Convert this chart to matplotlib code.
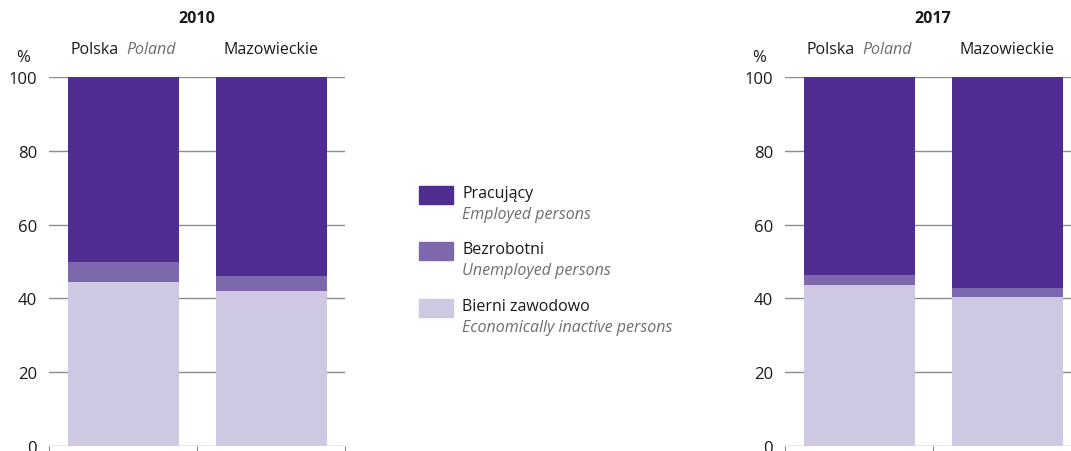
import matplotlib.pyplot as plt
from matplotlib.patches import Rectangle

plt.rcParams['font.family'] = ['Open Sans', 'DejaVu Sans']

years = ['2010', '2017']
regions = ['Polska', 'Mazowieckie']
# shares in %, per year: [Polska, Mazowieckie]
inactive = {'2010': [44.4, 42.0], '2017': [43.6, 40.4]}
unemployed = {'2010': [5.5, 4.1], '2017': [2.7, 2.4]}
employed = {'2010': [50.1, 53.9], '2017': [53.7, 57.2]}

series_pl = ['Pracujący', 'Bezrobotni', 'Bierni zawodowo']
series_en = ['Employed persons', 'Unemployed persons', 'Economically inactive persons']
colors = ['#4f2d91', '#7e68ad', '#cfc8e2']
grey = '#6e6e6e'

W, H = 1071, 452
fig = plt.figure(figsize=(W / 100, H / 100), dpi=100)

axes_left = [49, 785]
for year, left in zip(years, axes_left):
    ax = fig.add_axes([left / W, 5 / H, 296 / W, 369 / H])
    x = range(len(regions))
    inc = inactive[year]
    une = unemployed[year]
    emp = employed[year]
    ax.bar(x, inc, width=0.75, color=colors[2], zorder=2)
    ax.bar(x, une, width=0.75, bottom=inc, color=colors[1], zorder=2)
    bottom2 = [a + b for a, b in zip(inc, une)]
    ax.bar(x, emp, width=0.75, bottom=bottom2, color=colors[0], zorder=2)

    ax.set_xlim(-0.5, 1.5)
    ax.set_ylim(0, 100)
    ax.set_yticks(range(0, 101, 20))
    ax.yaxis.grid(True, color='#8c8c8c', lw=1)
    ax.set_axisbelow(True)
    for s in ax.spines.values():
        s.set_visible(False)
    ax.tick_params(axis='y', length=0, pad=8.5, labelsize=12, labelcolor='#1a1a1a')
    ax.set_xticks([-0.5, 0.5, 1.5])
    ax.set_xticklabels([])
    ax.tick_params(axis='x', direction='out', length=6, color='#8c8c8c')

    ax.annotate('%', xy=(0, 100), xycoords=('axes fraction', 'data'),
                xytext=(-26, 20), textcoords='offset pixels', fontsize=12,
                color='#1a1a1a', ha='center', va='center')
    ax.annotate(year, xy=(0.5, 1), xycoords='axes fraction',
                xytext=(0, 59), textcoords='offset pixels', ha='center', va='center',
                fontsize=11.5, fontweight='bold', color='#1a1a1a')
    ax.annotate('Polska', xy=(0, 100), xycoords='data', xytext=(-4, 28),
                textcoords='offset pixels', ha='right', va='center', fontsize=11.5,
                color='#1a1a1a')
    ax.annotate('Poland', xy=(0, 100), xycoords='data', xytext=(3, 28),
                textcoords='offset pixels', ha='left', va='center', fontsize=11.5,
                color=grey, style='italic')
    ax.annotate('Mazowieckie', xy=(1, 100), xycoords='data', xytext=(0, 28),
                textcoords='offset pixels', ha='center', va='center', fontsize=11.5,
                color='#1a1a1a')

# legend
legend_top = [187, 243, 300]
for i, top in enumerate(legend_top):
    fig.patches.append(Rectangle((419 / W, 1 - (top + 18) / H), 34 / W, 18 / H,
                                 transform=fig.transFigure, color=colors[i]))
    fig.text(462 / W, 1 - (top + 7) / H, series_pl[i], fontsize=11.5, color='#1a1a1a',
             va='center', ha='left')
    fig.text(462 / W, 1 - (top + 28) / H, series_en[i], fontsize=11.5, color=grey,
             style='italic', va='center', ha='left')

fig.savefig('out.png', dpi=100)
